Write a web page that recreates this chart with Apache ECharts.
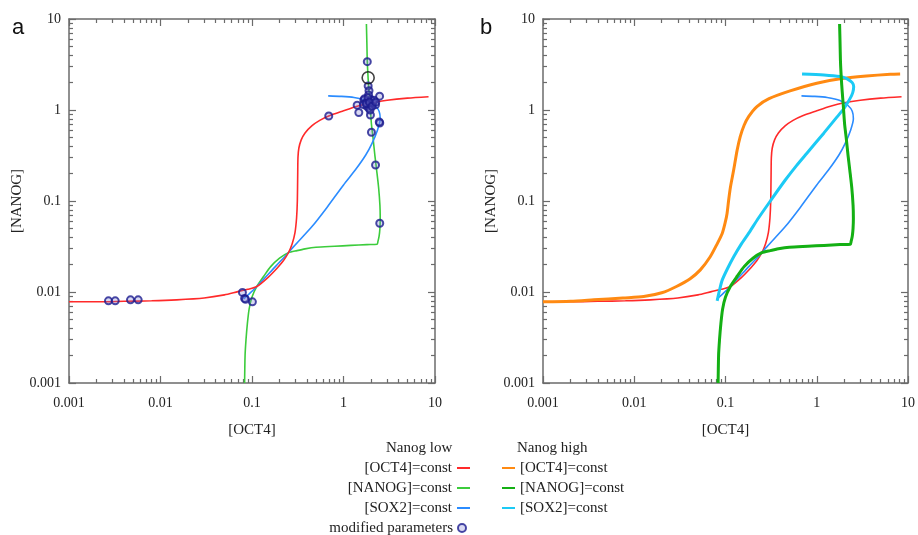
<!DOCTYPE html>
<html>
<head>
<meta charset="utf-8">
<script src="https://cdn.jsdelivr.net/npm/echarts@6/dist/echarts.min.js"></script>
<style>
  html, body { margin: 0; padding: 0; background: #fff; }
  #chart { width: 918px; height: 535px; }
</style>
</head>
<body>
<div id="chart"></div>
<script>
// Axis decades and the minor multiples inside each decade
const majorTicks = [0.001, 0.01, 0.1, 1, 10];
const minorSteps = [2, 3, 4, 5, 6, 7, 8, 9];

// Nullclines, Nanog low: [OCT4], [NANOG]
const oct4Low = [
  [0.001, 0.0078], [0.002, 0.0078], [0.004, 0.0079], [0.008, 0.008], [0.015, 0.0082],
  [0.03, 0.0086], [0.05, 0.0093], [0.07, 0.0101], [0.09, 0.0107], [0.113, 0.0115],
  [0.15, 0.0145], [0.19, 0.0185], [0.22, 0.022], [0.25, 0.027], [0.275, 0.034],
  [0.295, 0.045], [0.307, 0.065], [0.313, 0.1], [0.316, 0.2], [0.318, 0.3],
  [0.325, 0.38], [0.345, 0.47], [0.38, 0.56], [0.45, 0.67], [0.55, 0.77],
  [0.69, 0.86], [1.0, 0.98], [1.41, 1.1], [2.0, 1.2], [3.0, 1.28], [5.0, 1.35], [8.5, 1.4]
];
const nanogLow = [
  [1.78, 8.8], [1.8, 5.5], [1.82, 3.4], [1.86, 2.2], [1.9, 1.6], [1.95, 1.15],
  [2.02, 0.7], [2.1, 0.5], [2.2, 0.32], [2.3, 0.22], [2.42, 0.14], [2.5, 0.09],
  [2.52, 0.065], [2.5, 0.05], [2.45, 0.041], [2.38, 0.036], [2.33, 0.0335],
  [1.8, 0.0332], [1.2, 0.0325], [0.8, 0.0318], [0.5, 0.031], [0.38, 0.0298],
  [0.31, 0.0285], [0.25, 0.027], [0.2, 0.0235], [0.16, 0.019], [0.135, 0.015],
  [0.113, 0.0115], [0.1, 0.0088], [0.093, 0.0065], [0.089, 0.0045], [0.086, 0.003],
  [0.084, 0.002], [0.083, 0.001]
];
const sox2Low = [
  [0.68, 1.43], [0.95, 1.41], [1.3, 1.37], [1.8, 1.27], [2.2, 1.12], [2.45, 0.97],
  [2.52, 0.8], [2.35, 0.6], [2.05, 0.43], [1.75, 0.32], [1.35, 0.22], [1.0, 0.15],
  [0.66, 0.085], [0.45, 0.052], [0.285, 0.0315], [0.25, 0.027], [0.18, 0.019],
  [0.113, 0.0115], [0.095, 0.0097], [0.081, 0.0084]
];

// Nullclines, Nanog high
const oct4High = [
  [0.001, 0.0078], [0.002, 0.0079], [0.0036, 0.0082], [0.0075, 0.0086], [0.0127, 0.0089],
  [0.02, 0.0098], [0.029, 0.0115], [0.041, 0.014], [0.053, 0.0175], [0.068, 0.0244],
  [0.08, 0.033], [0.092, 0.044], [0.1, 0.06], [0.104, 0.073], [0.108, 0.1],
  [0.113, 0.14], [0.123, 0.22], [0.134, 0.36], [0.145, 0.51], [0.16, 0.68],
  [0.18, 0.85], [0.221, 1.09], [0.3, 1.33], [0.51, 1.62], [1.0, 1.97],
  [1.81, 2.2], [3.5, 2.36], [6.4, 2.47], [8.2, 2.49]
];
const nanogHigh = nanogLow;
const sox2High = [
  [0.69, 2.49], [1.2, 2.43], [1.8, 2.33], [2.15, 2.2], [2.45, 2.0], [2.54, 1.8],
  [2.48, 1.55], [2.33, 1.35], [2.0, 1.05], [1.67, 0.84], [1.2, 0.56], [0.78, 0.335],
  [0.6, 0.245], [0.45, 0.169], [0.31, 0.1], [0.23, 0.065], [0.179, 0.044],
  [0.15, 0.034], [0.123, 0.0244], [0.105, 0.018], [0.092, 0.0135], [0.086, 0.0105],
  [0.081, 0.008]
];

// Steady states under modified parameters, and the reference state
const modifiedParams = [
  [0.0027, 0.008], [0.0032, 0.008], [0.0047, 0.0082], [0.0057, 0.0082],
  [0.0786, 0.0099], [0.083, 0.0085], [0.085, 0.0083], [0.101, 0.0078],
  [2.49, 0.057], [2.24, 0.249], [2.02, 0.57], [2.49, 0.72], [2.46, 0.74], [0.69, 0.86],
  [1.82, 3.4], [1.86, 1.84], [1.9, 1.63], [1.88, 1.46],
  [1.41, 1.13], [1.47, 0.94], [1.97, 0.88], [2.48, 1.42], [2.24, 1.14], [1.67, 1.29],
  [1.75, 1.2], [1.85, 1.25], [1.95, 1.15], [1.8, 1.1], [2.0, 1.3], [1.7, 1.33],
  [1.9, 1.05], [2.1, 1.2], [1.65, 1.15], [1.85, 1.36], [1.95, 1.0], [2.15, 1.28],
  [1.78, 1.18], [1.92, 1.22], [2.05, 1.1], [2.25, 1.22]
];
const referenceState = [[1.86, 2.26]];

const minorTicks = majorTicks.slice(0, -1).flatMap(d => minorSteps.map(m => +(d * m).toPrecision(3)));

const FRAME = '#6b6b6b';
const SERIF = 'Liberation Serif';
const C = {
  oct4Low: '#ff2a2a', nanogLow: '#3ccc3c', sox2Low: '#2b8cff',
  oct4High: '#ff8a12', nanogHigh: '#14b014', sox2High: '#1ccaf5',
  marker: '#1c1c8e'
};

// Four axes per side pair: major + minor ticks, mirrored on the opposite edge
function axesFor(gridIndex, dim, name) {
  const sides = dim === 'x' ? ['bottom', 'top'] : ['left', 'right'];
  const out = [];
  sides.forEach((pos, s) => {
    [true, false].forEach(major => {
      const main = s === 0 && major;
      out.push({
        type: 'log', logBase: 10, min: 0.001, max: 10,
        gridIndex, position: pos,
        name: main ? name : '',
        nameLocation: 'middle',
        nameGap: dim === 'x' ? 40 : 44,
        nameTextStyle: { fontFamily: SERIF, fontSize: 15, color: '#222' },
        axisLine: { show: major, onZero: false, lineStyle: { color: FRAME, width: 1.5 } },
        axisTick: {
          show: true, inside: true, length: major ? 7 : 4,
          customValues: major ? majorTicks : minorTicks,
          lineStyle: { color: FRAME, width: 1.2 }
        },
        axisLabel: {
          show: main, customValues: majorTicks,
          fontFamily: SERIF, fontSize: 14, color: '#222',
          margin: dim === 'x' ? 13 : 8,
          formatter: v => String(+(+v).toPrecision(3))
        },
        minorTick: { show: false },
        splitLine: { show: false }
      });
    });
  });
  return out;
}

const xAxes = [...axesFor(0, 'x', '[OCT4]'), ...axesFor(1, 'x', '[OCT4]')];
const yAxes = [...axesFor(0, 'y', '[NANOG]'), ...axesFor(1, 'y', '[NANOG]')];

function curve(name, data, color, width, panel, z) {
  return {
    type: 'line', name, data,
    xAxisIndex: panel * 4, yAxisIndex: panel * 4,
    showSymbol: false, smooth: 0.25, smoothMonotone: 'none',
    lineStyle: { color, width },
    itemStyle: { color },
    z, silent: true
  };
}

const labels = {
  oct4Low: '[OCT4]=const', nanogLow: '[NANOG]=const', sox2Low: '[SOX2]=const',
  markers: 'modified parameters',
  oct4High: '[OCT4]=const', nanogHigh: '[NANOG]=const', sox2High: '[SOX2]=const'
};

function legendItem(key, top, leftCol, isMarker) {
  const base = {
    data: [key], orient: 'vertical', top, padding: 0,
    icon: isMarker ? 'circle' : 'rect',
    itemWidth: isMarker ? 8 : 13, itemHeight: isMarker ? 8 : 2,
    formatter: () => labels[key],
    textStyle: { fontFamily: SERIF, fontSize: 15, color: '#222', lineHeight: 16 },
    selectedMode: false
  };
  if (leftCol) { base.right = 918 - (isMarker ? 467 : 470); base.align = 'right'; }
  else { base.left = 502; base.align = 'left'; }
  return base;
}

const option = {
  animation: false,
  backgroundColor: '#fff',
  grid: [
    { left: 69, top: 19, width: 366, height: 364 },
    { left: 543, top: 19, width: 365, height: 364 }
  ],
  xAxis: xAxes,
  yAxis: yAxes,
  legend: [
    legendItem('oct4Low', 460, true),
    legendItem('nanogLow', 480, true),
    legendItem('sox2Low', 500, true),
    legendItem('markers', 520, true, true),
    legendItem('oct4High', 460, false),
    legendItem('nanogHigh', 480, false),
    legendItem('sox2High', 500, false)
  ],
  graphic: [
    { type: 'text', left: 12, top: 17, style: { text: 'a', font: '22px "Liberation Sans"', fill: '#111' } },
    { type: 'text', left: 480, top: 17, style: { text: 'b', font: '22px "Liberation Sans"', fill: '#111' } },
    { type: 'text', left: 386, top: 441, style: { text: 'Nanog low', font: '15px "Liberation Serif"', fill: '#222' } },
    { type: 'text', left: 517, top: 441, style: { text: 'Nanog high', font: '15px "Liberation Serif"', fill: '#222' } }
  ],
  series: [
    // panel a
    curve('nanogLow', nanogLow, C.nanogLow, 1.6, 0, 2),
    curve('sox2Low', sox2Low, C.sox2Low, 1.6, 0, 3),
    curve('oct4Low', oct4Low, C.oct4Low, 1.6, 0, 4),
    {
      type: 'scatter', name: 'markers', data: modifiedParams,
      xAxisIndex: 0, yAxisIndex: 0, symbol: 'circle', symbolSize: 7,
      itemStyle: { color: 'rgba(120,120,210,0.35)', borderColor: C.marker, borderWidth: 2 },
      z: 6, silent: true
    },
    {
      type: 'scatter', name: 'reference', data: referenceState,
      xAxisIndex: 0, yAxisIndex: 0, symbol: 'circle', symbolSize: 12,
      itemStyle: { color: 'rgba(0,0,0,0)', borderColor: '#111', borderWidth: 1.6 },
      z: 7, silent: true
    },
    // panel b
    curve('oct4Low', oct4Low, C.oct4Low, 1.6, 1, 2),
    curve('sox2Low', sox2Low, C.sox2Low, 1.6, 1, 2),
    curve('nanogLow', nanogLow, C.nanogLow, 1.6, 1, 2),
    curve('oct4High', oct4High, C.oct4High, 3, 1, 3),
    curve('sox2High', sox2High, C.sox2High, 3, 1, 4),
    curve('nanogHigh', nanogHigh, C.nanogHigh, 3, 1, 5)
  ]
};

const chart = echarts.init(document.getElementById('chart'), null, { renderer: 'canvas' });
chart.setOption(option);
</script>
</body>
</html>
